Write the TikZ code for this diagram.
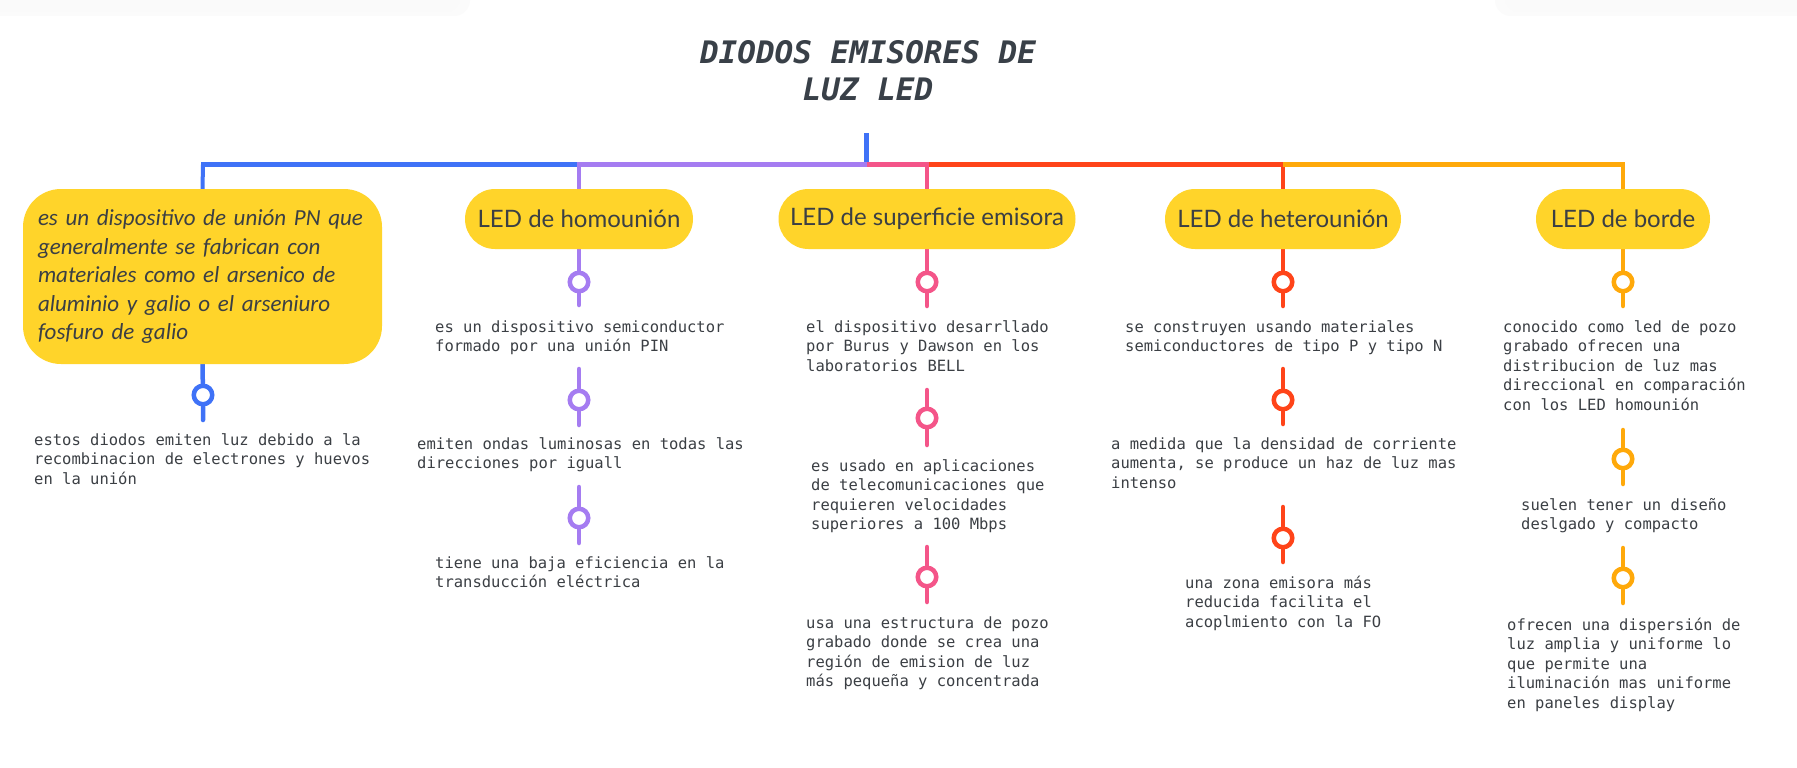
\documentclass[tikz,border=0pt]{standalone}
\usepackage{fontspec}
\setmainfont{Lato}
\newfontfamily\monof{DejaVu Sans Mono}[BoldItalicFont={DejaVu Sans Mono Bold Oblique}]
\newfontfamily\handf{Carlito}
\newfontfamily\pillf{Lato}
\definecolor{cyel}{HTML}{FFD42A}
\definecolor{cblue}{HTML}{3F72F7}
\definecolor{cpurp}{HTML}{A57CF1}
\definecolor{cpink}{HTML}{F45589}
\definecolor{cred}{HTML}{FF4419}
\definecolor{corng}{HTML}{FFA90A}
\definecolor{ctext}{HTML}{3B3F44}
\definecolor{ctitle}{HTML}{394048}
\pgfdeclarelayer{bg}
\pgfsetlayers{bg,main}
\begin{document}
\begin{tikzpicture}[x=1pt,y=-1pt,
  desc/.style={anchor=north west, inner sep=0pt, align=left, text=ctext,
    font=\monof\fontsize{15.5}{19.5}\selectfont},
  pill/.style={fill=cyel, rounded corners=30pt, minimum height=60pt, inner sep=0pt,
    text=ctext, font=\pillf\fontsize{24}{28}\selectfont},
  ring/.style={circle, draw=#1, fill=white, line width=4.5pt, minimum size=18.5pt, inner sep=0pt},
  stem/.style={draw=#1, line width=4.5pt, line cap=round},
  bar/.style={draw=#1, line width=4.5pt},
  drop/.style={draw=#1, line width=4pt},
]
\useasboundingbox (0,0) rectangle (1797,768);

% title
\node[anchor=north, inner sep=0pt, align=center, text=ctitle,
  font=\monof\bfseries\itshape\fontsize{31}{37}\selectfont] (title) at (868,37.6)
  {\strut DIODOS EMISORES DE\\LUZ LED};

% junction coordinates
\coordinate (stemtop) at (866.5,133);
\coordinate (hub) at (866.5,164.5);
\coordinate (j0) at (203,164.5);
\coordinate (j1) at (579,164.5);
\coordinate (j2) at (927,164.5);
\coordinate (j3) at (1283,164.5);
\coordinate (j4) at (1623,164.5);
\coordinate (m1) at (577,164.5);
\coordinate (m3) at (929,164.5);

% main boxes
\node[fill=cyel, rounded corners=38pt, minimum width=359pt, minimum height=175pt,
  text width=329pt, inner xsep=15pt, inner ysep=0pt, align=left, text=ctext,
  font=\handf\itshape\fontsize{23}{28.5}\selectfont] (b0) at (202.5,276.5)
  {\mbox{es un dispositivo de unión PN que}\\generalmente se fabrican con\\materiales como el arsenico de\\aluminio y galio o el arseniuro\\fosfuro de galio};
\node[pill, minimum width=228pt] (p1) at (579,219) {LED de homounión};
\node[pill, minimum width=297pt] (p2) at (927,219) {LED de superficie emisora};
\node[pill, minimum width=236pt] (p3) at (1283,219) {LED de heterounión};
\node[pill, minimum width=174pt] (p4) at (1623,219) {LED de borde};

% rings
\node[ring=cblue] (r01) at (203,395) {};
\node[ring=cpurp] (r11) at (579,282) {};
\node[ring=cpurp] (r12) at (579,400) {};
\node[ring=cpurp] (r13) at (579,518) {};
\node[ring=cpink] (r21) at (927,282) {};
\node[ring=cpink] (r22) at (927,418) {};
\node[ring=cpink] (r23) at (927,577) {};
\node[ring=cred] (r31) at (1283,282) {};
\node[ring=cred] (r32) at (1283,400) {};
\node[ring=cred] (r33) at (1283,538) {};
\node[ring=corng] (r41) at (1623,282) {};
\node[ring=corng] (r42) at (1623,459) {};
\node[ring=corng] (r43) at (1623,578) {};

% stem end coordinates
\coordinate (e01) at (203,420);
\coordinate (e11) at (579,305);
\coordinate (s12) at (579,369); \coordinate (e12) at (579,425);
\coordinate (s13) at (579,487); \coordinate (e13) at (579,543);
\coordinate (e21) at (927,306);
\coordinate (s22) at (927,390); \coordinate (e22) at (927,445);
\coordinate (s23) at (927,547); \coordinate (e23) at (927,602);
\coordinate (e31) at (1283,306);
\coordinate (s32) at (1283,369); \coordinate (e32) at (1283,424);
\coordinate (s33) at (1283,507); \coordinate (e33) at (1283,562);
\coordinate (e41) at (1623,306);
\coordinate (s42) at (1623,430); \coordinate (e42) at (1623,484);
\coordinate (s43) at (1623,548); \coordinate (e43) at (1623,603);

\begin{pgfonlayer}{bg}
  \fill[white] (0,0) rectangle (1797,768);
  % faint top shadows
  \fill[black!1.5, rounded corners=16pt] (-20,-20) rectangle (470,16);
  \fill[black!2, rounded corners=14pt] (-20,-20) rectangle (460,12);
  \fill[black!1.5, rounded corners=16pt] (1495,-20) rectangle (1820,16);
  \fill[black!2, rounded corners=14pt] (1505,-20) rectangle (1820,12);

  \draw[bar=cblue] (stemtop) -- (hub);
  \draw[drop=cblue] (j0) -- (b0.north);
  \draw[drop=cpurp] (j1) -- (p1.north);
  \draw[drop=cpink] (j2) -- (p2.north);
  \draw[drop=cred] (j3) -- (p3.north);
  \draw[drop=corng] (j4) -- (p4.north);
  \draw[bar=cblue] ([xshift=-2pt]j0) -- (m1);
  \draw[bar=cpurp] (m1) -- (hub);
  \draw[bar=cpink] (hub) -- (m3);
  \draw[bar=cred] (m3) -- (j3);
  \draw[bar=corng] (j3) -- ([xshift=2pt]j4);

  \draw[stem=cblue] (b0.south) -- (r01) -- (e01);
  \draw[stem=cpurp] (p1.south) -- (r11) -- (e11);
  \draw[stem=cpurp] (s12) -- (r12) -- (e12);
  \draw[stem=cpurp] (s13) -- (r13) -- (e13);
  \draw[stem=cpink] (p2.south) -- (r21) -- (e21);
  \draw[stem=cpink] (s22) -- (r22) -- (e22);
  \draw[stem=cpink] (s23) -- (r23) -- (e23);
  \draw[stem=cred] (p3.south) -- (r31) -- (e31);
  \draw[stem=cred] (s32) -- (r32) -- (e32);
  \draw[stem=cred] (s33) -- (r33) -- (e33);
  \draw[stem=corng] (p4.south) -- (r41) -- (e41);
  \draw[stem=corng] (s42) -- (r42) -- (e42);
  \draw[stem=corng] (s43) -- (r43) -- (e43);
\end{pgfonlayer}

% descriptions
\node[desc] (t01) at (34,445-13.65) {\strut estos diodos emiten luz debido a la\\recombinacion de electrones y huevos\\en la unión};
\node[desc] (t11) at (435,332-13.65) {\strut es un dispositivo semiconductor\\formado por una unión PIN};
\node[desc] (t12) at (417,449-13.65) {\strut emiten ondas luminosas en todas las\\direcciones por iguall};
\node[desc] (t13) at (435,568-13.65) {\strut tiene una baja eficiencia en la\\transducción eléctrica};
\node[desc] (t21) at (806,332-13.65) {\strut el dispositivo desarrllado\\por Burus y Dawson en los\\laboratorios BELL};
\node[desc] (t22) at (811,471-13.65) {\strut es usado en aplicaciones\\de telecomunicaciones que\\requieren velocidades\\superiores a 100 Mbps};
\node[desc] (t23) at (806,628-13.65) {\strut usa una estructura de pozo\\grabado donde se crea una\\región de emision de luz\\más pequeña y concentrada};
\node[desc] (t31) at (1125,332-13.65) {\strut se construyen usando materiales\\semiconductores de tipo P y tipo N};
\node[desc] (t32) at (1111,449-13.65) {\strut a medida que la densidad de corriente\\aumenta, se produce un haz de luz mas\\intenso};
\node[desc] (t33) at (1185,588-13.65) {\strut una zona emisora más\\reducida facilita el\\acoplmiento con la FO};
\node[desc] (t41) at (1503,332-13.65) {\strut conocido como led de pozo\\grabado ofrecen una\\distribucion de luz mas\\direccional en comparación\\con los LED homounión};
\node[desc] (t42) at (1521,510-13.65) {\strut suelen tener un diseño\\deslgado y compacto};
\node[desc] (t43) at (1507,630-13.65) {\strut ofrecen una dispersión de\\luz amplia y uniforme lo\\que permite una\\iluminación mas uniforme\\en paneles display};
\end{tikzpicture}
\end{document}
